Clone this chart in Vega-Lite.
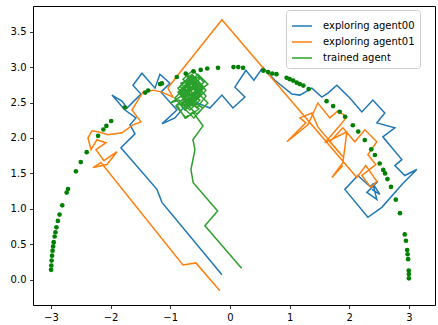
{
"$schema": "https://vega.github.io/schema/vega-lite/v6.json",
"width": 402, "height": 299,
"autosize": {"type": "none"},
"padding": {"left": 33, "top": 6, "right": 3, "bottom": 20},
"background": "white",
"config": {
  "font": "DejaVu Sans",
  "view": {"stroke": "black", "strokeWidth": 1},
  "axis": {"domain": false, "grid": false, "ticks": true, "tickColor": "black", "tickSize": 3.5, "tickWidth": 0.8, "labelFontSize": 10, "labelColor": "black", "labelPadding": 3.5, "title": null, "labelFont": "DejaVu Sans"}
},
"datasets": {
"paths": [
{"s":"exploring agent00","i":0,"x":-0.134,"y":0.070},
{"s":"exploring agent00","i":1,"x":-1.139,"y":1.092},
{"s":"exploring agent00","i":2,"x":-1.223,"y":1.275},
{"s":"exploring agent00","i":3,"x":-1.826,"y":1.863},
{"s":"exploring agent00","i":4,"x":-1.591,"y":2.059},
{"s":"exploring agent00","i":5,"x":-1.675,"y":2.185},
{"s":"exploring agent00","i":6,"x":-1.575,"y":2.283},
{"s":"exploring agent00","i":7,"x":-1.759,"y":2.395},
{"s":"exploring agent00","i":8,"x":-1.977,"y":2.605},
{"s":"exploring agent00","i":9,"x":-1.809,"y":2.521},
{"s":"exploring agent00","i":10,"x":-1.725,"y":2.423},
{"s":"exploring agent00","i":11,"x":-1.491,"y":2.619},
{"s":"exploring agent00","i":12,"x":-1.625,"y":2.745},
{"s":"exploring agent00","i":13,"x":-1.474,"y":2.913},
{"s":"exploring agent00","i":14,"x":-1.256,"y":2.703},
{"s":"exploring agent00","i":15,"x":-1.173,"y":2.899},
{"s":"exploring agent00","i":16,"x":-1.005,"y":2.773},
{"s":"exploring agent00","i":17,"x":-1.156,"y":2.647},
{"s":"exploring agent00","i":18,"x":-0.888,"y":2.395},
{"s":"exploring agent00","i":19,"x":-1.139,"y":2.199},
{"s":"exploring agent00","i":20,"x":-0.921,"y":2.283},
{"s":"exploring agent00","i":21,"x":-0.670,"y":2.535},
{"s":"exploring agent00","i":22,"x":-0.335,"y":2.423},
{"s":"exploring agent00","i":23,"x":-0.134,"y":2.605},
{"s":"exploring agent00","i":24,"x":0.050,"y":2.423},
{"s":"exploring agent00","i":25,"x":0.251,"y":2.577},
{"s":"exploring agent00","i":26,"x":0.084,"y":2.717},
{"s":"exploring agent00","i":27,"x":0.268,"y":2.955},
{"s":"exploring agent00","i":28,"x":0.402,"y":2.815},
{"s":"exploring agent00","i":29,"x":0.553,"y":2.997},
{"s":"exploring agent00","i":30,"x":0.754,"y":2.815},
{"s":"exploring agent00","i":31,"x":1.039,"y":2.619},
{"s":"exploring agent00","i":32,"x":1.173,"y":2.605},
{"s":"exploring agent00","i":33,"x":1.374,"y":2.703},
{"s":"exploring agent00","i":34,"x":1.541,"y":2.577},
{"s":"exploring agent00","i":35,"x":1.642,"y":2.633},
{"s":"exploring agent00","i":36,"x":1.792,"y":2.745},
{"s":"exploring agent00","i":37,"x":2.010,"y":2.563},
{"s":"exploring agent00","i":38,"x":2.211,"y":2.367},
{"s":"exploring agent00","i":39,"x":2.395,"y":2.535},
{"s":"exploring agent00","i":40,"x":2.596,"y":2.353},
{"s":"exploring agent00","i":41,"x":2.462,"y":2.213},
{"s":"exploring agent00","i":42,"x":2.764,"y":2.143},
{"s":"exploring agent00","i":43,"x":2.563,"y":2.017},
{"s":"exploring agent00","i":44,"x":2.881,"y":1.695},
{"s":"exploring agent00","i":45,"x":2.764,"y":1.611},
{"s":"exploring agent00","i":46,"x":2.931,"y":1.471},
{"s":"exploring agent00","i":47,"x":3.132,"y":1.555},
{"s":"exploring agent00","i":48,"x":2.898,"y":1.359},
{"s":"exploring agent00","i":49,"x":2.546,"y":1.022},
{"s":"exploring agent00","i":50,"x":2.312,"y":0.882},
{"s":"exploring agent00","i":51,"x":1.926,"y":1.275},
{"s":"exploring agent00","i":52,"x":2.144,"y":1.471},
{"s":"exploring agent00","i":53,"x":2.345,"y":1.317},
{"s":"exploring agent00","i":54,"x":2.479,"y":1.387},
{"s":"exploring agent00","i":55,"x":2.295,"y":1.232},
{"s":"exploring agent00","i":56,"x":2.462,"y":1.134},
{"s":"exploring agent00","i":57,"x":2.395,"y":1.359},
{"s":"exploring agent00","i":58,"x":2.513,"y":1.204},
{"s":"exploring agent00","i":59,"x":2.379,"y":1.275},
{"s":"exploring agent01","i":0,"x":-0.168,"y":-0.154},
{"s":"exploring agent01","i":1,"x":-0.570,"y":0.238},
{"s":"exploring agent01","i":2,"x":-0.787,"y":0.210},
{"s":"exploring agent01","i":3,"x":-2.161,"y":1.653},
{"s":"exploring agent01","i":4,"x":-2.295,"y":1.583},
{"s":"exploring agent01","i":5,"x":-2.060,"y":1.625},
{"s":"exploring agent01","i":6,"x":-1.893,"y":1.807},
{"s":"exploring agent01","i":7,"x":-2.111,"y":1.681},
{"s":"exploring agent01","i":8,"x":-2.245,"y":1.835},
{"s":"exploring agent01","i":9,"x":-2.077,"y":1.933},
{"s":"exploring agent01","i":10,"x":-2.228,"y":1.975},
{"s":"exploring agent01","i":11,"x":-2.328,"y":1.835},
{"s":"exploring agent01","i":12,"x":-2.379,"y":2.003},
{"s":"exploring agent01","i":13,"x":-2.312,"y":2.101},
{"s":"exploring agent01","i":14,"x":-2.211,"y":2.087},
{"s":"exploring agent01","i":15,"x":-2.044,"y":2.045},
{"s":"exploring agent01","i":16,"x":-1.809,"y":2.073},
{"s":"exploring agent01","i":17,"x":-1.625,"y":2.185},
{"s":"exploring agent01","i":18,"x":-1.491,"y":2.227},
{"s":"exploring agent01","i":19,"x":-1.642,"y":2.395},
{"s":"exploring agent01","i":20,"x":-1.457,"y":2.647},
{"s":"exploring agent01","i":21,"x":-1.290,"y":2.675},
{"s":"exploring agent01","i":22,"x":-1.139,"y":2.647},
{"s":"exploring agent01","i":23,"x":-0.955,"y":2.577},
{"s":"exploring agent01","i":24,"x":-1.039,"y":2.703},
{"s":"exploring agent01","i":25,"x":-0.888,"y":2.871},
{"s":"exploring agent01","i":26,"x":-0.134,"y":3.669},
{"s":"exploring agent01","i":27,"x":2.127,"y":1.443},
{"s":"exploring agent01","i":28,"x":2.278,"y":1.611},
{"s":"exploring agent01","i":29,"x":2.462,"y":1.387},
{"s":"exploring agent01","i":30,"x":2.362,"y":1.303},
{"s":"exploring agent01","i":31,"x":2.211,"y":1.471},
{"s":"exploring agent01","i":32,"x":2.446,"y":1.625},
{"s":"exploring agent01","i":33,"x":2.312,"y":1.765},
{"s":"exploring agent01","i":34,"x":2.462,"y":1.947},
{"s":"exploring agent01","i":35,"x":2.261,"y":2.115},
{"s":"exploring agent01","i":36,"x":2.094,"y":1.947},
{"s":"exploring agent01","i":37,"x":1.893,"y":2.143},
{"s":"exploring agent01","i":38,"x":1.675,"y":1.947},
{"s":"exploring agent01","i":39,"x":1.893,"y":1.737},
{"s":"exploring agent01","i":40,"x":1.474,"y":2.157},
{"s":"exploring agent01","i":41,"x":1.374,"y":2.353},
{"s":"exploring agent01","i":42,"x":1.173,"y":2.283},
{"s":"exploring agent01","i":43,"x":1.273,"y":2.213},
{"s":"exploring agent01","i":44,"x":0.955,"y":1.947},
{"s":"exploring agent01","i":45,"x":1.307,"y":2.185},
{"s":"exploring agent01","i":46,"x":1.474,"y":2.493},
{"s":"exploring agent01","i":47,"x":1.675,"y":2.283},
{"s":"exploring agent01","i":48,"x":1.809,"y":2.381},
{"s":"exploring agent01","i":49,"x":1.960,"y":2.297},
{"s":"exploring agent01","i":50,"x":1.809,"y":2.143},
{"s":"exploring agent01","i":51,"x":1.591,"y":1.933},
{"s":"exploring agent01","i":52,"x":1.960,"y":2.087},
{"s":"exploring agent01","i":53,"x":1.893,"y":1.653},
{"s":"exploring agent01","i":54,"x":1.709,"y":1.443},
{"s":"exploring agent01","i":55,"x":1.893,"y":1.611},
{"s":"trained agent","i":0,"x":0.196,"y":0.164},
{"s":"trained agent","i":1,"x":-0.419,"y":0.761},
{"s":"trained agent","i":2,"x":-0.206,"y":0.971},
{"s":"trained agent","i":3,"x":-0.615,"y":1.368},
{"s":"trained agent","i":4,"x":-0.653,"y":1.555},
{"s":"trained agent","i":5,"x":-0.586,"y":1.835},
{"s":"trained agent","i":6,"x":-0.620,"y":1.975},
{"s":"trained agent","i":7,"x":-0.452,"y":2.171},
{"s":"trained agent","i":8,"x":-0.620,"y":2.367},
{"s":"trained agent","i":9,"x":-0.754,"y":2.283},
{"s":"trained agent","i":10,"x":-0.888,"y":2.465},
{"s":"trained agent","i":11,"x":-0.704,"y":2.507},
{"s":"trained agent","i":12,"x":-0.871,"y":2.647},
{"s":"trained agent","i":13,"x":-0.670,"y":2.815},
{"s":"trained agent","i":14,"x":-0.503,"y":2.661},
{"s":"trained agent","i":15,"x":-0.737,"y":2.479},
{"s":"trained agent","i":16,"x":-0.553,"y":2.339},
{"s":"trained agent","i":17,"x":-0.369,"y":2.493},
{"s":"trained agent","i":18,"x":-0.586,"y":2.675},
{"s":"trained agent","i":19,"x":-0.787,"y":2.829},
{"s":"trained agent","i":20,"x":-0.620,"y":2.955},
{"s":"trained agent","i":21,"x":-0.436,"y":2.787},
{"s":"trained agent","i":22,"x":-0.670,"y":2.591},
{"s":"trained agent","i":23,"x":-0.838,"y":2.731},
{"s":"trained agent","i":24,"x":-0.637,"y":2.899},
{"s":"trained agent","i":25,"x":-0.452,"y":2.731},
{"s":"trained agent","i":26,"x":-0.687,"y":2.549},
{"s":"trained agent","i":27,"x":-0.519,"y":2.409},
{"s":"trained agent","i":28,"x":-0.737,"y":2.283},
{"s":"trained agent","i":29,"x":-0.905,"y":2.451},
{"s":"trained agent","i":30,"x":-0.687,"y":2.633},
{"s":"trained agent","i":31,"x":-0.821,"y":2.773},
{"s":"trained agent","i":32,"x":-0.603,"y":2.857},
{"s":"trained agent","i":33,"x":-0.402,"y":2.675},
{"s":"trained agent","i":34,"x":-0.620,"y":2.479},
{"s":"trained agent","i":35,"x":-0.804,"y":2.577},
{"s":"trained agent","i":36,"x":-0.586,"y":2.745},
{"s":"trained agent","i":37,"x":-0.754,"y":2.899},
{"s":"trained agent","i":38,"x":-0.553,"y":2.815},
{"s":"trained agent","i":39,"x":-0.704,"y":2.647},
{"s":"trained agent","i":40,"x":-0.503,"y":2.535},
{"s":"trained agent","i":41,"x":-0.670,"y":2.395},
{"s":"trained agent","i":42,"x":-0.854,"y":2.535},
{"s":"trained agent","i":43,"x":-1.005,"y":2.493},
{"s":"trained agent","i":44,"x":-0.787,"y":2.605},
{"s":"trained agent","i":45,"x":-0.570,"y":2.591},
{"s":"trained agent","i":46,"x":-0.737,"y":2.731},
{"s":"trained agent","i":47,"x":-0.536,"y":2.899},
{"s":"trained agent","i":48,"x":-0.369,"y":2.759},
{"s":"trained agent","i":49,"x":-0.570,"y":2.633},
{"s":"trained agent","i":50,"x":-0.771,"y":2.423},
{"s":"trained agent","i":51,"x":-0.603,"y":2.283},
{"s":"trained agent","i":52,"x":-0.452,"y":2.423},
{"s":"trained agent","i":53,"x":-0.653,"y":2.535},
{"s":"trained agent","i":54,"x":-0.821,"y":2.675},
{"s":"trained agent","i":55,"x":-0.620,"y":2.801},
{"s":"trained agent","i":56,"x":-0.737,"y":2.885},
{"s":"trained agent","i":57,"x":-0.503,"y":2.843},
{"s":"trained agent","i":58,"x":-0.637,"y":2.689},
{"s":"trained agent","i":59,"x":-0.771,"y":2.535},
{"s":"trained agent","i":60,"x":-0.586,"y":2.451},
{"s":"trained agent","i":61,"x":-0.720,"y":2.605},
{"s":"trained agent","i":62,"x":-0.804,"y":2.703},
{"s":"trained agent","i":63,"x":-0.603,"y":2.591},
{"s":"trained agent","i":64,"x":-0.737,"y":2.535},
{"s":"trained agent","i":65,"x":-0.536,"y":2.675},
{"s":"trained agent","i":66,"x":-0.704,"y":2.815},
{"s":"trained agent","i":67,"x":-0.838,"y":2.619},
{"s":"trained agent","i":68,"x":-0.637,"y":2.465},
{"s":"trained agent","i":69,"x":-0.486,"y":2.605},
{"s":"trained agent","i":70,"x":-0.687,"y":2.745},
{"s":"trained agent","i":71,"x":-0.787,"y":2.507},
{"s":"trained agent","i":72,"x":-0.570,"y":2.521},
{"s":"trained agent","i":73,"x":-0.653,"y":2.661},
{"s":"trained agent","i":74,"x":-0.519,"y":2.773},
{"s":"trained agent","i":75,"x":-0.754,"y":2.661},
{"s":"trained agent","i":76,"x":-0.620,"y":2.563},
{"s":"trained agent","i":77,"x":-0.720,"y":2.437},
{"s":"trained agent","i":78,"x":-0.553,"y":2.479},
{"s":"trained agent","i":79,"x":-0.670,"y":2.619},
{"s":"trained agent","i":80,"x":-0.787,"y":2.703},
{"s":"trained agent","i":81,"x":-0.586,"y":2.549},
{"s":"trained agent","i":82,"x":-0.754,"y":2.395},
{"s":"trained agent","i":83,"x":-0.921,"y":2.563},
{"s":"trained agent","i":84,"x":-0.704,"y":2.759},
{"s":"trained agent","i":85,"x":-0.486,"y":2.633},
{"s":"trained agent","i":86,"x":-0.670,"y":2.465},
{"s":"trained agent","i":87,"x":-0.838,"y":2.647},
{"s":"trained agent","i":88,"x":-0.603,"y":2.787},
{"s":"trained agent","i":89,"x":-0.402,"y":2.591},
{"s":"trained agent","i":90,"x":-0.553,"y":2.423},
{"s":"trained agent","i":91,"x":-0.720,"y":2.549},
{"s":"trained agent","i":92,"x":-0.871,"y":2.703},
{"s":"trained agent","i":93,"x":-0.653,"y":2.857},
{"s":"trained agent","i":94,"x":-0.452,"y":2.689},
{"s":"trained agent","i":95,"x":-0.620,"y":2.521},
{"s":"trained agent","i":96,"x":-0.804,"y":2.451},
{"s":"trained agent","i":97,"x":-0.687,"y":2.675},
{"s":"trained agent","i":98,"x":-0.519,"y":2.731},
{"s":"trained agent","i":99,"x":-0.737,"y":2.633},
{"s":"trained agent","i":100,"x":-0.670,"y":2.731}
],
"dots": [
{"x":-2.997,"y":0.14},{"x":-2.993,"y":0.20},{"x":-2.988,"y":0.27},{"x":-2.981,"y":0.34},{"x":-2.972,"y":0.41},{"x":-2.963,"y":0.47},{"x":-2.953,"y":0.53},{"x":-2.937,"y":0.61},{"x":-2.924,"y":0.67},{"x":-2.907,"y":0.74},{"x":-2.883,"y":0.83},{"x":-2.855,"y":0.92},{"x":-2.810,"y":1.05},{"x":-2.736,"y":1.23},{"x":-2.713,"y":1.28},{"x":-2.581,"y":1.53},{"x":-2.499,"y":1.66},{"x":-2.400,"y":1.80},{"x":-2.21,"y":2.03},{"x":-2.12,"y":2.12},{"x":-2.07,"y":2.17},{"x":-1.99,"y":2.24},{"x":-1.76,"y":2.43},{"x":-1.42,"y":2.64},{"x":-1.37,"y":2.67},{"x":-1.17,"y":2.76},{"x":-1.14,"y":2.77},{"x":-0.89,"y":2.86},{"x":-0.74,"y":2.91},{"x":-0.61,"y":2.94},{"x":-0.49,"y":2.96},{"x":-0.38,"y":2.98},{"x":-0.20,"y":2.99},{"x":0.06,"y":3.0},{"x":0.14,"y":3.0},{"x":0.22,"y":2.99},{"x":0.56,"y":2.95},{"x":0.64,"y":2.93},{"x":0.71,"y":2.91},{"x":0.78,"y":2.90},{"x":0.95,"y":2.85},{"x":1.0,"y":2.83},{"x":1.06,"y":2.81},{"x":1.12,"y":2.78},{"x":1.17,"y":2.76},{"x":1.23,"y":2.74},{"x":1.32,"y":2.69},{"x":1.62,"y":2.52},{"x":1.73,"y":2.45},{"x":1.84,"y":2.37},{"x":1.93,"y":2.30},{"x":2.06,"y":2.18},{"x":2.15,"y":2.09},{"x":2.26,"y":1.97},{"x":2.37,"y":1.84},{"x":2.43,"y":1.76},{"x":2.51,"y":1.64},{"x":2.57,"y":1.55},{"x":2.60,"y":1.50},{"x":2.64,"y":1.42},{"x":2.70,"y":1.31},{"x":2.78,"y":1.13},{"x":2.85,"y":0.94},{"x":2.93,"y":0.64},{"x":2.95,"y":0.55},{"x":2.97,"y":0.42},{"x":2.978,"y":0.36},{"x":2.986,"y":0.29},{"x":2.997,"y":0.13},{"x":2.999,"y":0.08},{"x":3.0,"y":0.02}
]
},
"layer": [
{
  "data": {"name": "paths"},
  "mark": {"type": "line", "strokeWidth": 1.5, "clip": true},
  "encoding": {
    "x": {"field": "x", "type": "quantitative", "scale": {"domain": [-3.30, 3.437], "nice": false, "zero": false}, "axis": {"values": [-3,-2,-1,0,1,2,3], "format": "d"}},
    "y": {"field": "y", "type": "quantitative", "scale": {"domain": [-0.356, 3.862], "nice": false, "zero": false}, "axis": {"values": [0,0.5,1,1.5,2,2.5,3,3.5], "format": ".1f"}},
    "color": {"field": "s", "type": "nominal", "scale": {"domain": ["exploring agent00","exploring agent01","trained agent"], "range": ["#1f77b4","#ff7f0e","#2ca02c"]},
      "legend": {"title": null, "orient": "none", "legendX": 253, "legendY": 4, "symbolType": "stroke", "symbolSize": 400, "symbolStrokeWidth": 1.5, "labelFontSize": 10, "labelColor": "black", "labelOffset": 10, "rowPadding": -3, "padding": 5, "fillColor": "rgba(255,255,255,0.8)", "strokeColor": "#cccccc", "cornerRadius": 3}},
    "order": {"field": "i", "type": "quantitative"}
  }
},
{
  "data": {"name": "dots"},
  "mark": {"type": "circle", "size": 22, "opacity": 1, "color": "#008000"},
  "encoding": {
    "x": {"field": "x", "type": "quantitative"},
    "y": {"field": "y", "type": "quantitative"}
  }
}
]
}
